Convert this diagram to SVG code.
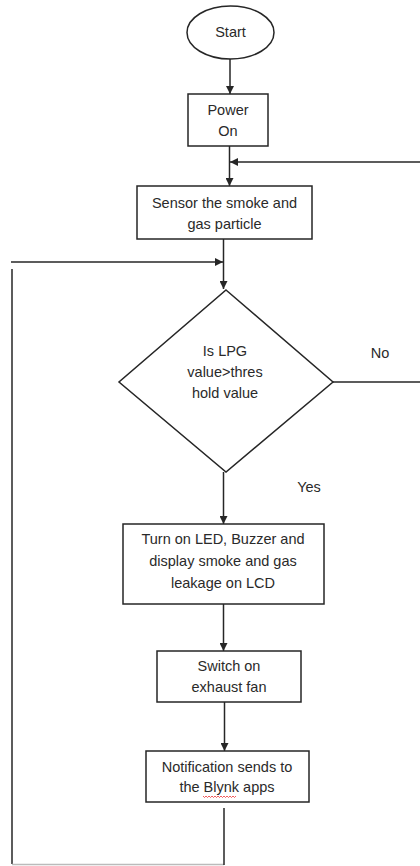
<svg xmlns="http://www.w3.org/2000/svg" width="420" height="866" viewBox="0 0 420 866">
<style>
.shape{fill:#fff;stroke:#262626;stroke-width:1.5}
.line{fill:none;stroke:#262626;stroke-width:1.5}
.t{font-family:"Liberation Sans",Arial,sans-serif;font-size:14.5px;fill:#2a2a2a;text-anchor:middle}
</style>
<defs>
<marker id="ah" markerWidth="8" markerHeight="8" refX="8" refY="4" orient="auto" markerUnits="userSpaceOnUse">
<path d="M0,0 L8,4 L0,8 Z" fill="#262626"/>
</marker>
</defs>
<rect width="420" height="866" fill="#fff"/>
<g id="connectors">
<line class="line" x1="230" y1="59" x2="230" y2="94" marker-end="url(#ah)"/>
<line class="line" x1="229.5" y1="146" x2="229.5" y2="186" marker-end="url(#ah)"/>
<line class="line" x1="420" y1="162" x2="230" y2="162" marker-end="url(#ah)"/>
<line class="line" x1="223.5" y1="239" x2="223.5" y2="289" marker-end="url(#ah)"/>
<line class="line" x1="11" y1="262" x2="223" y2="262" marker-end="url(#ah)"/>
<line class="line" x1="12" y1="269" x2="12" y2="864"/>
<line x1="12" y1="864.5" x2="224" y2="864.5" stroke="#bbb" stroke-width="1.5"/>
<line class="line" x1="224" y1="808" x2="224" y2="865"/>
<line class="line" x1="333" y1="382" x2="420" y2="382"/>
<line class="line" x1="223.5" y1="472" x2="223.5" y2="524" marker-end="url(#ah)"/>
<line class="line" x1="223.5" y1="604" x2="223.5" y2="651" marker-end="url(#ah)"/>
<line class="line" x1="224.5" y1="702" x2="224.5" y2="751" marker-end="url(#ah)"/>
<text class="t" x="380" y="358">No</text>
<text class="t" x="309" y="492">Yes</text>
</g>
<g id="start">
<ellipse class="shape" cx="230.5" cy="32.5" rx="43.5" ry="26.5"/>
<text class="t" x="230.5" y="37">Start</text>
</g>
<g id="power">
<rect class="shape" x="188" y="94" width="80" height="52"/>
<text class="t" x="228" y="115">Power</text>
<text class="t" x="228" y="136">On</text>
</g>
<g id="sensor">
<rect class="shape" x="137" y="186" width="175" height="53"/>
<text class="t" x="224.5" y="208">Sensor the smoke and</text>
<text class="t" x="224.5" y="229">gas particle</text>
</g>
<g id="decision">
<polygon class="shape" points="226,290 333,382 226,472 119,382"/>
<text class="t" x="225" y="356">Is LPG</text>
<text class="t" x="225" y="377">value&gt;thres</text>
<text class="t" x="225" y="398">hold value</text>
</g>
<g id="alert">
<rect class="shape" x="123" y="524" width="201" height="80"/>
<text class="t" x="223" y="544">Turn on LED, Buzzer and</text>
<text class="t" x="223" y="566">display smoke and gas</text>
<text class="t" x="223" y="588">leakage on LCD</text>
</g>
<g id="fan">
<rect class="shape" x="157" y="651" width="144" height="51"/>
<text class="t" x="229" y="671">Switch on</text>
<text class="t" x="229" y="692">exhaust fan</text>
</g>
<g id="notify">
<rect class="shape" x="146" y="751" width="163" height="51"/>
<text class="t" x="227" y="772">Notification sends to</text>
<text class="t" x="227" y="792">the Blynk apps</text>
<path d="M203,796 l1.5,1.5 l1.5,-1.5 l1.5,1.5 l1.5,-1.5 l1.5,1.5 l1.5,-1.5 l1.5,1.5 l1.5,-1.5 l1.5,1.5 l1.5,-1.5 l1.5,1.5 l1.5,-1.5 l1.5,1.5 l1.5,-1.5 l1.5,1.5 l1.5,-1.5 l1.5,1.5 l1.5,-1.5 l1.5,1.5 l1.5,-1.5 l1.5,1.5 l1.5,-1.5" fill="none" stroke="#e33" stroke-width="0.8"/>
</g>
</svg>
